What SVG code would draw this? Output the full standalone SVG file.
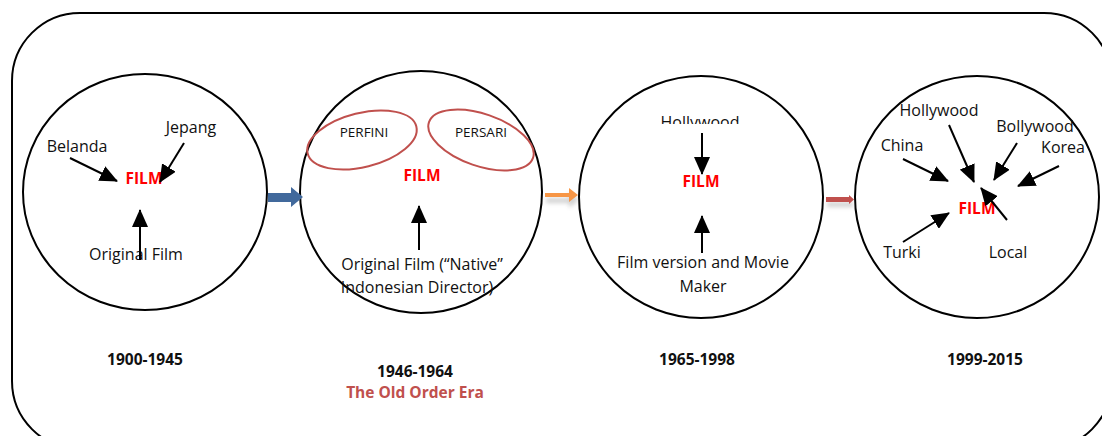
<svg xmlns="http://www.w3.org/2000/svg" width="1102" height="436" viewBox="0 0 1102 436">
<style>
.t{font-family:"Open Sans","Liberation Sans",sans-serif;font-size:16px;fill:#111;text-anchor:middle}
.s{font-size:13.5px}
.f{font-family:"Open Sans","Liberation Sans",sans-serif;font-size:15.5px;font-weight:bold;fill:#FF0000;text-anchor:middle}
.y{font-family:"Open Sans","Liberation Sans",sans-serif;font-size:15.5px;font-weight:bold;fill:#111;text-anchor:middle}
.era{fill:#C0504D}
.c{fill:none;stroke:#000;stroke-width:2}
.e{fill:none;stroke:#C0504D;stroke-width:2}
.a{stroke:#000;stroke-width:2;fill:none;marker-end:url(#ah)}
</style>
<defs>
<marker id="ah" markerUnits="userSpaceOnUse" markerWidth="18" markerHeight="16" viewBox="0 0 18 16" refX="17" refY="8" orient="auto">
<path d="M0,0 L18,8 L0,16 Z" fill="#000"/>
</marker>
<clipPath id="clipH"><rect x="600" y="100" width="200" height="24"/></clipPath>
<filter id="sh" x="-30%" y="-50%" width="160%" height="250%"><feGaussianBlur stdDeviation="2"/></filter>
</defs>
<rect x="12" y="13" width="1100" height="436" rx="68" ry="68" class="c"/>

<g id="node-1900">
<ellipse cx="145" cy="192" rx="122" ry="118" class="c"/>
<text class="t" x="77" y="152">Belanda</text>
<text class="t" x="191" y="133">Jepang</text>
<text class="f" x="144" y="184">FILM</text>
<text class="t" x="136" y="260">Original Film</text>
<text class="y" x="145" y="365">1900-1945</text>
</g>

<g id="node-1946">
<ellipse cx="421" cy="192" rx="121" ry="121" class="c"/>
<ellipse cx="362" cy="140" rx="56" ry="27" transform="rotate(-14 362 140)" class="e"/>
<ellipse cx="481" cy="140" rx="55" ry="26" transform="rotate(19 481 140)" class="e"/>
<text class="t s" x="364" y="137">PERFINI</text>
<text class="t s" x="481" y="137">PERSARI</text>
<text class="f" x="422" y="181">FILM</text>
<text class="t" x="422" y="270">Original Film (“Native”</text>
<text class="t" x="417" y="293">Indonesian Director)</text>
<text class="y" x="415" y="377">1946-1964</text>
<text class="y era" x="415" y="398">The Old Order Era</text>
</g>

<g id="node-1965">
<ellipse cx="701" cy="197" rx="122" ry="121" class="c"/>
<text class="t" x="700" y="128" clip-path="url(#clipH)">Hollywood</text>
<text class="f" x="701" y="187">FILM</text>
<text class="t" x="703" y="268">Film version and Movie</text>
<text class="t" x="703" y="292">Maker</text>
<text class="y" x="697" y="365">1965-1998</text>
</g>

<g id="node-1999">
<ellipse cx="977" cy="197" rx="122" ry="121" class="c"/>
<text class="t" x="939" y="116">Hollywood</text>
<text class="t" x="1035" y="132">Bollywood</text>
<text class="t" x="1063" y="153">Korea</text>
<text class="t" x="902" y="151">China</text>
<text class="t" x="902" y="258">Turki</text>
<text class="t" x="1008" y="258">Local</text>
<text class="f" x="977" y="214">FILM</text>
<text class="y" x="985" y="365">1999-2015</text>
</g>

<g id="connectors">
<line class="a" x1="70" y1="158" x2="117" y2="181"/>
<line class="a" x1="184" y1="143" x2="160" y2="182"/>
<line class="a" x1="140" y1="260" x2="140" y2="210"/>
<line class="a" x1="419" y1="250" x2="419" y2="206"/>
<line class="a" x1="702" y1="133" x2="702" y2="174"/>
<line class="a" x1="702" y1="253" x2="702" y2="216"/>
<line class="a" x1="903" y1="159" x2="948" y2="181"/>
<line class="a" x1="949" y1="125" x2="974" y2="182"/>
<line class="a" x1="1017" y1="143" x2="994" y2="180"/>
<line class="a" x1="1059" y1="166" x2="1018" y2="186"/>
<line class="a" x1="903" y1="242" x2="949" y2="213"/>
<line class="a" x1="1007" y1="220" x2="981" y2="188"/>
<path d="M268,193 L291,193 L291,187 L303,197 L291,207 L291,202 L268,202 Z" fill="#41699C"/>
<path d="M546,198 L569,198 L569,192 L579,200 L569,208 L569,203 L546,203 Z" fill="#999" opacity="0.45" filter="url(#sh)"/>
<path d="M545,193 L569,193 L569,188 L578,195 L569,202 L569,197 L545,197 Z" fill="#F79646"/>
<path d="M827,202 L853,202 L853,207 L827,207 Z" fill="#999" opacity="0.45" filter="url(#sh)"/>
<path d="M826,197 L849,197 L849,195 L854,199.5 L849,204 L849,202 L826,202 Z" fill="#C0504D"/>
</g>
</svg>
